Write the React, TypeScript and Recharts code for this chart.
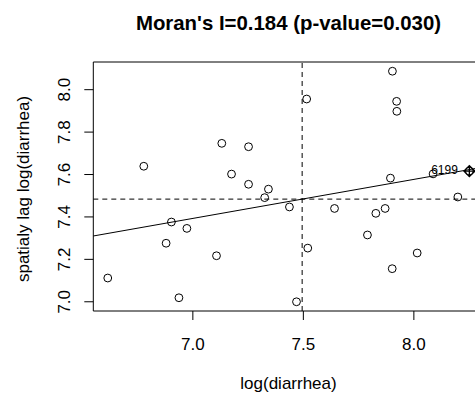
import React from 'react';
import { ScatterChart, Scatter, XAxis, YAxis, ReferenceLine, ReferenceArea, Label } from 'recharts';

// log(diarrhea) values (x) and their spatial lag (y)
const logDiarrhea = [
  6.615, 6.778, 6.879, 6.903, 6.937, 6.973, 7.107, 7.131, 7.175, 7.252,
  7.252, 7.342, 7.325, 7.437, 7.469, 7.515, 7.520, 7.641, 7.790, 7.828,
  7.870, 7.894, 7.903, 7.922, 7.923, 7.902, 8.015, 8.087, 8.199, 8.251,
];
const lagLogDiarrhea = [
  7.112, 7.639, 7.276, 7.376, 7.019, 7.346, 7.217, 7.747, 7.602, 7.731,
  7.554, 7.531, 7.491, 7.447, 7.000, 7.956, 7.253, 7.440, 7.315, 7.417,
  7.440, 7.583, 8.087, 7.945, 7.898, 7.156, 7.230, 7.603, 7.494, 7.616,
];
// influential observation(s)
const influentialIds = ['6199'];
const influentialX = [8.251];
const influentialY = [7.616];

const xTicks = [7.0, 7.5, 8.0];
const yTicks = [7.0, 7.2, 7.4, 7.6, 7.8, 8.0];

const MORAN_I = 0.184;
const P_VALUE = 0.03;
const TITLE = `Moran's I=${MORAN_I.toFixed(3)} (p-value=${P_VALUE.toFixed(3)})`;
const X_TITLE = 'log(diarrhea)';
const Y_TITLE = 'spatialy lag log(diarrhea)';

const FONT = '"Liberation Sans", Arial, Helvetica, sans-serif';

const mean = (a: number[]) => a.reduce((s, v) => s + v, 0) / a.length;
const ext = (a: number[]): [number, number] => {
  const lo = Math.min(...a);
  const hi = Math.max(...a);
  const r = hi - lo;
  return [lo - 0.04 * r, hi + 0.04 * r];
};

const X_DOMAIN = ext(logDiarrhea);
const Y_DOMAIN = ext(lagLogDiarrhea);
const MEAN_X = mean(logDiarrhea);
const MEAN_Y = mean(lagLogDiarrhea);
const regY = (x: number) => MEAN_Y + MORAN_I * (x - MEAN_X);

const points = logDiarrhea.map((x, i) => ({ x, y: lagLogDiarrhea[i] }));
const influential = influentialX.map((x, i) => ({ x, y: influentialY[i], id: influentialIds[i] }));

const W = 520;
const H = 396;

const XTick = (props: any) => {
  const { x, payload } = props;
  return (
    <text x={x} y={350} textAnchor="middle" fontSize={17} fontFamily={FONT} fill="#000">
      {Number(payload.value).toFixed(1)}
    </text>
  );
};

const YTick = (props: any) => {
  const { y, payload } = props;
  const tx = 70.5;
  return (
    <text x={tx} y={y} transform={`rotate(-90 ${tx} ${y})`} textAnchor="middle" fontSize={17} fontFamily={FONT} fill="#000">
      {Number(payload.value).toFixed(1)}
    </text>
  );
};

const OpenCircle = (props: any) => {
  const { cx, cy } = props;
  return <circle cx={cx} cy={cy} r={3.9} fill="none" stroke="#000" strokeWidth={1} />;
};

const InfluentialMark = (props: any) => {
  const { cx, cy, payload } = props;
  const d = 5.5;
  return (
    <g>
      <path
        d={`M${cx - d},${cy} L${cx},${cy - d} L${cx + d},${cy} L${cx},${cy + d} Z M${cx - d},${cy} L${cx + d},${cy} M${cx},${cy - d} L${cx},${cy + d}`}
        fill="none"
        stroke="#000"
        strokeWidth={1.3}
      />
      <text x={cx - 11.5} y={cy + 2.5} textAnchor="end" fontSize={12} fontFamily={FONT} fill="#000">
        {payload.id}
      </text>
    </g>
  );
};

export default function App() {
  return (
    <div style={{ position: 'fixed', left: 0, top: 0, width: 475, height: 396, overflow: 'hidden', background: '#fff' }}>
      <ScatterChart width={W} height={H} margin={{ top: 62, right: 36.2, bottom: 45, left: 33.3 }}>
        <XAxis
          type="number"
          dataKey="x"
          domain={X_DOMAIN}
          allowDataOverflow
          ticks={xTicks}
          tick={<XTick />}
          tickSize={9}
          tickLine={{ stroke: '#000' }}
          axisLine={false}
          height={40}
        >
          <Label
            content={() => (
              <text x={288.5} y={389} textAnchor="middle" fontSize={17} fontFamily={FONT} fill="#000">
                {X_TITLE}
              </text>
            )}
          />
        </XAxis>
        <YAxis
          type="number"
          dataKey="y"
          domain={Y_DOMAIN}
          allowDataOverflow
          ticks={yTicks}
          tick={<YTick />}
          tickSize={9}
          tickLine={{ stroke: '#000' }}
          axisLine={false}
          width={60}
        >
          <Label
            content={() => (
              <g>
                <text
                  x={28.5}
                  y={189}
                  transform="rotate(-90 28.5 189)"
                  textAnchor="middle"
                  fontSize={17}
                  fontFamily={FONT}
                  fill="#000"
                >
                  {Y_TITLE}
                </text>
                <text x={288.5} y={30} textAnchor="middle" fontSize={20.4} fontWeight="bold" fontFamily={FONT} fill="#000">
                  {TITLE}
                </text>
              </g>
            )}
          />
        </YAxis>
        <ReferenceArea
          x1={X_DOMAIN[0]}
          x2={X_DOMAIN[1]}
          y1={Y_DOMAIN[0]}
          y2={Y_DOMAIN[1]}
          fill="none"
          fillOpacity={0}
          stroke="#000"
          strokeWidth={1}
          ifOverflow="visible"
        />
        <ReferenceLine x={MEAN_X} stroke="#000" strokeDasharray="5 4" strokeWidth={1} />
        <ReferenceLine y={MEAN_Y} stroke="#000" strokeDasharray="5 4" strokeWidth={1} />
        <ReferenceLine
          segment={[
            { x: X_DOMAIN[0], y: regY(X_DOMAIN[0]) },
            { x: X_DOMAIN[1], y: regY(X_DOMAIN[1]) },
          ]}
          stroke="#000"
          strokeWidth={1}
          ifOverflow="visible"
        />
        <Scatter data={points} shape={<OpenCircle />} isAnimationActive={false} />
        <Scatter data={influential} shape={<InfluentialMark />} isAnimationActive={false} />
      </ScatterChart>
    </div>
  );
}
